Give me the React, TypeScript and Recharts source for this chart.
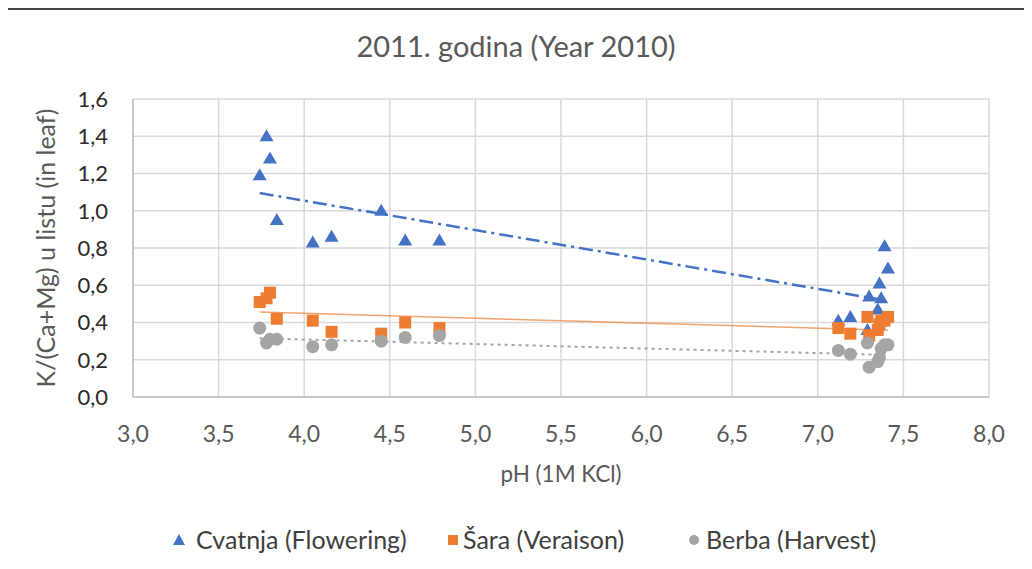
import React from "react";
import { ScatterChart, Scatter, XAxis, YAxis, CartesianGrid } from "recharts";

const PH = [3.74, 3.78, 3.8, 3.84, 4.05, 4.16, 4.45, 4.59, 4.79, 7.12, 7.19, 7.29, 7.3, 7.35, 7.36, 7.37, 7.39, 7.41];
const FLOWERING = [1.19, 1.4, 1.28, 0.95, 0.83, 0.86, 1.0, 0.84, 0.84, 0.41, 0.43, 0.36, 0.54, 0.47, 0.61, 0.53, 0.81, 0.69];
const VERAISON = [0.51, 0.53, 0.56, 0.42, 0.41, 0.35, 0.34, 0.4, 0.37, 0.37, 0.34, 0.43, 0.33, 0.36, 0.39, 0.41, 0.41, 0.43];
const HARVEST = [0.37, 0.29, 0.31, 0.31, 0.27, 0.28, 0.3, 0.32, 0.33, 0.25, 0.23, 0.29, 0.16, 0.19, 0.21, 0.26, 0.28, 0.28];

// trendline ends
const TREND_X = [3.74, 7.41];
const TREND_FLOWERING = [1.095, 0.516];
const TREND_VERAISON = [0.456, 0.359];
const TREND_HARVEST = [0.315, 0.226];

const X_TICKS = [3, 3.5, 4, 4.5, 5, 5.5, 6, 6.5, 7, 7.5, 8];
const Y_TICKS = [0, 0.2, 0.4, 0.6, 0.8, 1.0, 1.2, 1.4, 1.6];

const BLUE = "#4472C4";
const ORANGE = "#ED7D31";
const GREY = "#A5A5A5";
const FONT = "Lato, 'Open Sans', sans-serif";

const toPoints = (xs: number[], ys: number[]) => xs.map((x, i) => ({ x, y: ys[i] }));

const fmt = (v: number) => v.toFixed(1).replace(".", ",");

const Triangle = (p: any) => (
    <polygon points={`${p.cx},${p.cy - 7} ${p.cx - 7},${p.cy + 5} ${p.cx + 7},${p.cy + 5}`} fill={BLUE} />
);
const Square = (p: any) => <rect x={p.cx - 6} y={p.cy - 6} width={12} height={12} fill={ORANGE} />;
const Dot = (p: any) => <circle cx={p.cx} cy={p.cy} r={6.5} fill={GREY} />;
const NoShape = () => <g />;

const LegendItem = ({ left, textLeft, icon, label }: any) => (
    <>
        <svg style={{ position: "absolute", left: left - 7, top: 523 }} width={14} height={14}>
            {icon}
        </svg>
        <div style={{ position: "absolute", left: textLeft, top: 514, fontSize: 25, color: "#404040", whiteSpace: "nowrap" }}>
            {label}
        </div>
    </>
);

const App = () => {
    return (
        <div
            style={{
                position: "relative",
                width: 1024,
                height: 555,
                marginLeft: -3,
                borderTop: "2px solid #444",
                borderLeft: "2px solid #777",
                boxSizing: "border-box",
                fontFamily: FONT,
                background: "#fff"
            }}>
            <div style={{ position: "absolute", left: 0, width: 1018, top: 18, textAlign: "center", fontSize: 29, color: "#595959" }}>
                2011. godina (Year 2010)
            </div>
            <ScatterChart
                width={1020}
                height={550}
                margin={{ top: 89, right: 38, left: 0, bottom: 103 }}
                style={{ position: "absolute", left: 0, top: 0 }}>
                <CartesianGrid stroke="#d9d9d9" strokeWidth={1.5} />
                <XAxis
                    type="number"
                    dataKey="x"
                    domain={[3, 8]}
                    ticks={X_TICKS}
                    tickFormatter={fmt}
                    tickSize={0}
                    tickMargin={29}
                    height={60}
                    stroke="#c8c8c8"
                    strokeWidth={2}
                    tick={{ fill: "#595959", fontSize: 23, fontFamily: FONT }}
                    allowDataOverflow
                />
                <YAxis
                    type="number"
                    dataKey="y"
                    domain={[0, 1.6]}
                    ticks={Y_TICKS}
                    tickFormatter={fmt}
                    tickSize={0}
                    tickMargin={25}
                    width={126}
                    stroke="#c8c8c8"
                    strokeWidth={2}
                    tick={{ fill: "#2b2b2b", fontSize: 22, fontFamily: FONT }}
                    allowDataOverflow
                />
                <Scatter data={toPoints(PH, FLOWERING)} shape={Triangle} isAnimationActive={false} />
                <Scatter data={toPoints(PH, VERAISON)} shape={Square} isAnimationActive={false} />
                <Scatter data={toPoints(PH, HARVEST)} shape={Dot} isAnimationActive={false} />
                <Scatter
                    data={toPoints(TREND_X, TREND_FLOWERING)}
                    line={{ stroke: BLUE, strokeWidth: 2.5, strokeDasharray: "14 5 3 5" }}
                    shape={NoShape}
                    isAnimationActive={false}
                />
                <Scatter
                    data={toPoints(TREND_X, TREND_VERAISON)}
                    line={{ stroke: ORANGE, strokeWidth: 1.5, strokeOpacity: 0.7 }}
                    shape={NoShape}
                    isAnimationActive={false}
                />
                <Scatter
                    data={toPoints(TREND_X, TREND_HARVEST)}
                    line={{ stroke: GREY, strokeWidth: 2, strokeDasharray: "3 4" }}
                    shape={NoShape}
                    isAnimationActive={false}
                />
            </ScatterChart>
            <div style={{ position: "absolute", left: 0, width: 1108, top: 450, textAlign: "center", fontSize: 22.5, color: "#595959" }}>
                pH (1M KCl)
            </div>
            <div
                style={{
                    position: "absolute",
                    left: 38,
                    top: 238,
                    transform: "translate(-50%, -50%) rotate(-90deg)",
                    fontSize: 25,
                    color: "#595959",
                    whiteSpace: "nowrap"
                }}>
                K/(Ca+Mg) u listu (in leaf)
            </div>
            <LegendItem left={172} textLeft={189} icon={<polygon points="7,1 1,12 13,12" fill={BLUE} />} label="Cvatnja (Flowering)" />
            <LegendItem left={446} textLeft={456} icon={<rect x={2} y={2} width={10} height={10} fill={ORANGE} />} label="Šara (Veraison)" />
            <LegendItem left={687} textLeft={699} icon={<circle cx={7} cy={7} r={5} fill={GREY} />} label="Berba (Harvest)" />
        </div>
    );
};

export default App;
